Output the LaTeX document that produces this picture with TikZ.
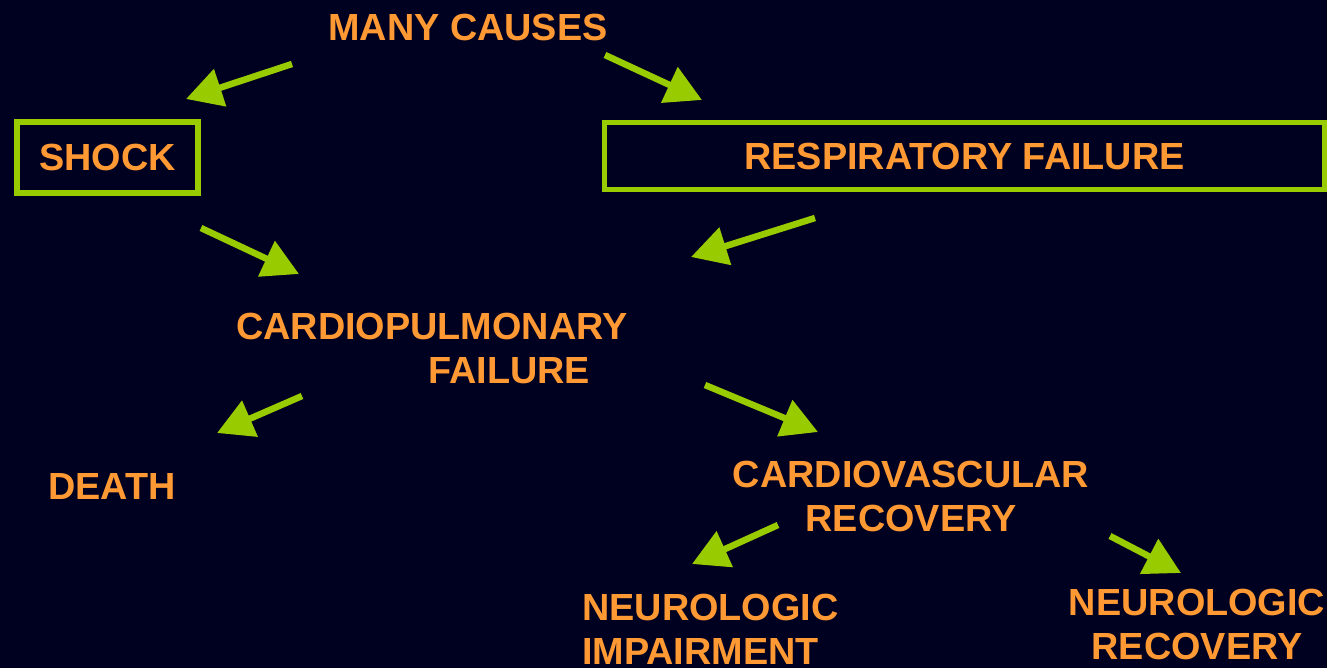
\documentclass[tikz,border=0pt]{standalone}
\usepackage{fontspec}
\setmainfont{Liberation Sans}
\usetikzlibrary{arrows.meta}
\definecolor{navy}{RGB}{0,0,32}
\definecolor{orng}{RGB}{255,153,51}
\definecolor{lime}{RGB}{153,204,0}
\begin{document}
\begin{tikzpicture}[x=1pt, y=-1pt, >={Triangle[length=36pt,width=38pt]}]
        \tikzstyle{label} = [text=orng, inner sep=0pt, font=\fontsize{37.8}{44}\selectfont\bfseries]
        \tikzstyle{block} = [label, draw=lime, rectangle]
        \tikzstyle{arr} = [->, draw=lime, fill=lime, line width=6.5pt]

        \fill[navy] (0,0) rectangle (1327,668);
        \useasboundingbox (0,0) rectangle (1327,668);

        \node [label] (causes) at (468,27) {MANY CAUSES};
        \node [block, line width=6pt, minimum width=181pt, minimum height=71pt] (shock) at (107.5,157.5) {SHOCK};
        \node [block, line width=5pt, minimum width=720pt, minimum height=67pt] (resp) at (964.5,156) {RESPIRATORY FAILURE};
        \node [label, align=left, anchor=north west] (cpf) at (236,313) {CARDIOPULMONARY\\ \hspace*{192pt}FAILURE};
        \node [label] (death) at (112,486) {DEATH};
        \node [label, align=center, anchor=north] (cvr) at (911,461) {CARDIOVASCULAR\\ RECOVERY};
        \node [label, align=left, anchor=north west] (impair) at (582,594) {NEUROLOGIC\\ IMPAIRMENT};
        \node [label, align=center, anchor=north] (nrec) at (1197,589) {NEUROLOGIC\\ RECOVERY};

        % arrow ends
        \coordinate (c1) at (292,64);   \coordinate (s1) at (186,99);
        \coordinate (c2) at (605,55);   \coordinate (r2) at (702,100);
        \coordinate (s3) at (201,228);  \coordinate (p3) at (299,274);
        \coordinate (r4) at (815,218);  \coordinate (p4) at (691,257);
        \coordinate (p5) at (302,396);  \coordinate (d5) at (217,433);
        \coordinate (p6) at (705,385);  \coordinate (v6) at (818,432);
        \coordinate (v7) at (778,525);  \coordinate (i7) at (692,564);
        \coordinate (v8) at (1110,536); \coordinate (n8) at (1181,573);

        \draw [arr] (c1) -- (s1);
        \draw [arr] (c2) -- (r2);
        \draw [arr] (s3) -- (p3);
        \draw [arr] (r4) -- (p4);
        \draw [arr] (p5) -- (d5);
        \draw [arr] (p6) -- (v6);
        \draw [arr] (v7) -- (i7);
        \draw [arr] (v8) -- (n8);
    \end{tikzpicture}
\end{document}
